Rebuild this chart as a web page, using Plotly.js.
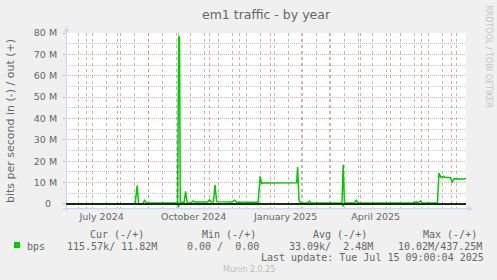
<!DOCTYPE html>
<html><head><meta charset="utf-8">
<script src="https://cdn.plot.ly/plotly-3.0.1.min.js"></script>
<style>html,body{margin:0;padding:0;background:#F0F0F0;}#chart{width:497px;height:280px;}</style>
</head><body><div id="chart"></div>
<script>
// ---- data ----
const outDates = [
 "2024-06-10 09:00","2024-08-18 12:00","2024-08-20 12:00","2024-08-22 00:00","2024-08-26 00:00",
 "2024-08-28 00:00","2024-08-30 00:00","2024-09-29 22:00","2024-10-01 02:00","2024-10-01 20:00",
 "2024-10-02 16:00","2024-10-06 12:00","2024-10-08 00:00","2024-10-09 12:00","2024-10-13 12:00",
 "2024-10-15 12:00","2024-10-17 00:00","2024-10-30 00:00","2024-11-01 00:00","2024-11-03 00:00",
 "2024-11-04 20:00","2024-11-06 08:00","2024-11-08 00:00","2024-11-23 00:00","2024-11-26 00:00",
 "2024-11-28 00:00","2024-12-19 12:00","2024-12-21 12:00","2024-12-23 00:00","2024-12-24 12:00",
 "2025-01-27 00:00","2025-01-28 00:00","2025-01-29 08:00","2025-01-30 20:00","2025-02-06 20:00",
 "2025-02-08 16:00","2025-02-10 08:00","2025-03-13 08:00","2025-03-14 12:00","2025-03-15 20:00",
 "2025-03-25 20:00","2025-03-27 16:00","2025-03-29 00:00","2025-05-23 08:00","2025-05-24 20:00",
 "2025-05-26 00:00","2025-05-27 00:00","2025-05-28 08:00","2025-05-31 00:00","2025-06-01 08:00",
 "2025-06-16 20:00","2025-06-18 08:00","2025-06-20 00:00","2025-06-22 16:00","2025-06-24 08:00",
 "2025-06-29 20:00","2025-07-01 16:00","2025-07-03 08:00","2025-07-13 08:00","2025-07-15 09:00"
];
const outMbps = [
 0, 0, 8.6, 0, 0,
 1.7, 0.4, 0.5, 78.1, 78.1,
 0.8, 0.8, 5.9, 0.5, 0.6,
 1.4, 0.9, 0.9, 1.9, 0.9,
 1.0, 9.0, 1.1, 0.9, 1.8,
 0.8, 0.75, 12.9, 9.6, 9.8,
 9.9, 17.3, 2.0, 0.5, 0.5,
 1.4, 0.5, 0.5, 18.4, 0.4,
 0.5, 1.9, 0.5, 0.45, 1.0,
 0.5, 1.0, 0.5, 1.5, 0.5,
 0.5, 14.5, 12.6, 12.9, 12.4,
 12.4, 10.1, 11.8, 11.7, 11.9
];
const inDates = [
 "2024-06-10 09:00","2024-09-29 22:00","2024-09-30 18:00","2024-10-01 20:00",
 "2025-03-13 08:00","2025-03-14 12:00","2025-03-15 20:00","2025-07-15 09:00"
];
const inMbps = [0, -0.03, -1.4, -0.03, -0.03, -0.9, -0.03, -0.12];

const xTickDates = ["2024-07-16","2024-10-16","2025-01-16","2025-04-16"];
const xTickLabels = ["July 2024","October 2024","January 2025","April 2025"];
const yTickVals = [0,10e6,20e6,30e6,40e6,50e6,60e6,70e6,80e6];
const yTickLabels = ["0\u00a0\u00a0","10 M","20 M","30 M","40 M","50 M","60 M","70 M","80 M"];
const yMinorVals = [5e6,15e6,25e6,35e6,45e6,55e6,65e6,75e6];

const legendHeaders = ["Cur (-/+)","Min (-/+)","Avg (-/+)","Max (-/+)"];
const legendSeries = "bps";
const legendValues = ["115.57k/ 11.82M","0.00 /  0.00","33.09k/  2.48M","10.02M/437.25M"];
const lastUpdate = "Last update: Tue Jul 15 09:00:04 2025";

// ---- layout helpers (pixel -> paper) ----
const L = 66, W = 400, B = 209, H = 176;
const px = x => (x - L) / W;
const py = y => (B - y) / H;
const nb = s => s.replace(/ /g, "\u00a0");
const FONT = "DejaVu Sans", MONO = "DejaVu Sans Mono", FC = "#666666";
const RED = "rgba(222,79,79,0.5)", GREY = "rgba(143,143,143,0.5)", GREYX = "rgba(143,143,143,0.6)", AXIS = "#CFD6F8";
const DASH = "1px,1px";
const xRange = ["2024-06-10 09:00", "2025-07-15 09:00"];

const traces = [
 {x: inDates, y: inMbps.map(v => v * 1e6), type: "scatter", mode: "lines",
  line: {color: "#00CC00", width: 1.5}, hoverinfo: "skip", showlegend: false},
 {x: outDates, y: outMbps.map(v => v * 1e6), type: "scatter", mode: "lines",
  line: {color: "#00CC00", width: 1.5}, hoverinfo: "skip", showlegend: false},
 {x: [], y: [], xaxis: "x2", yaxis: "y", type: "scatter", showlegend: false},
 {x: [], y: [], xaxis: "x3", yaxis: "y", type: "scatter", showlegend: false}
];

const ann = [];
const hx = [90, 201.7, 312.7, 423.3];
legendHeaders.forEach((t, i) => ann.push({text: nb(t), x: px(hx[i]), y: py(234), xanchor: "left"}));
ann.push({text: legendSeries, x: px(26.7), y: py(246), xanchor: "left"});
const vx = [66.7, 186.7, 289.3, 397.7];
legendValues.forEach((t, i) => ann.push({text: nb(t), x: px(vx[i]), y: py(246), xanchor: "left"}));
ann.push({text: nb(lastUpdate), x: px(483.5), y: py(257.5), xanchor: "right"});
ann.forEach(a => Object.assign(a, {xref: "paper", yref: "paper", yanchor: "middle", showarrow: false,
  borderpad: 0, borderwidth: 0, font: {family: MONO, size: 10, color: FC}}));
ann.push({text: "Munin 2.0.25", xref: "paper", yref: "paper", x: px(249), y: py(269.3),
  xanchor: "center", yanchor: "middle", showarrow: false, font: {family: FONT, size: 8, color: "#BBBBBB"}});
ann.push({text: "RRDTOOL / TOBI OETIKER", xref: "paper", yref: "paper", x: px(488.3), y: py(56.5),
  textangle: 90, xanchor: "center", yanchor: "middle", showarrow: false,
  font: {family: FONT, size: 8, color: "#C4C4C4"}});

const shapes = [
 {type: "line", xref: "paper", yref: "paper", x0: px(66.5), x1: px(66.5), y0: py(212), y1: py(29), line: {color: AXIS, width: 1.2}},
 {type: "line", xref: "paper", yref: "paper", x0: px(63), x1: px(470), y0: py(208.7), y1: py(208.7), line: {color: AXIS, width: 1.2}},
 {type: "path", xref: "paper", yref: "paper", fillcolor: AXIS, line: {width: 0},
  path: `M ${px(63.8)} ${py(31.5)} L ${px(66.5)} ${py(26.5)} L ${px(69.2)} ${py(31.5)} Z`},
 {type: "path", xref: "paper", yref: "paper", fillcolor: AXIS, line: {width: 0},
  path: `M ${px(468)} ${py(206)} L ${px(473)} ${py(208.7)} L ${px(468)} ${py(211.4)} Z`},
 {type: "line", xref: "paper", yref: "y", x0: 0, x1: 1, y0: 0, y1: 0, layer: "above", line: {color: "#000000", width: 1.5}},
 {type: "rect", xref: "paper", yref: "paper", x0: px(14), x1: px(20), y0: py(248), y1: py(242), fillcolor: "#00CC00", line: {width: 0}}
];

const layout = {
 width: 497, height: 280,
 paper_bgcolor: "#F0F0F0", plot_bgcolor: "#FFFFFF",
 margin: {l: L, r: 497 - L - W, t: B - H, b: 280 - B, pad: 0},
 showlegend: false,
 title: {text: "em1 traffic - by year", x: 0.5, xanchor: "center", xref: "paper", y: 1 - 14.5 / 280, yanchor: "middle",
  font: {family: FONT, size: 12.5, color: FC}},
 // monthly major grid (red)
 xaxis: {type: "date", range: xRange, fixedrange: true,
  tickmode: "linear", tick0: "2024-07-01", dtick: "M1", showticklabels: false, ticks: "",
  showgrid: true, gridcolor: RED, griddash: "dot", gridwidth: 1,
  zeroline: false, showline: false},
 // two-week minor grid (grey)
 xaxis2: {type: "date", range: xRange, overlaying: "x", anchor: "y", side: "bottom", fixedrange: true,
  tickmode: "linear", tick0: "2024-06-23", dtick: 14 * 86400000, showticklabels: false, ticks: "",
  showgrid: true, gridcolor: GREYX, griddash: "dot", gridwidth: 1,
  zeroline: false, showline: false},
 // quarterly labels
 xaxis3: {type: "date", range: xRange, overlaying: "x", anchor: "y", side: "bottom", fixedrange: true,
  tickmode: "array", tickvals: xTickDates, ticktext: xTickLabels, ticks: "", showgrid: false,
  zeroline: false, showline: false, tickfont: {family: FONT, size: 9.5, color: FC}},
 yaxis: {range: [-2.35e6, 80e6], fixedrange: true,
  tickmode: "array", tickvals: yTickVals, ticktext: yTickLabels,
  ticks: "outside", ticklen: 2, tickcolor: RED, ticklabelstandoff: 4,
  tickfont: {family: FONT, size: 9.5, color: FC},
  showgrid: true, gridcolor: RED, griddash: DASH, gridwidth: 1,
  minor: {tickmode: "array", tickvals: yMinorVals, showgrid: true, gridcolor: GREY, griddash: DASH, gridwidth: 1},
  zeroline: false, showline: false,
  title: {text: "bits per second in (-) / out (+)", standoff: 16, font: {family: FONT, size: 11, color: FC}}},
 annotations: ann, shapes: shapes
};

Plotly.newPlot("chart", traces, layout, {staticPlot: true, displayModeBar: false});
</script></body></html>
